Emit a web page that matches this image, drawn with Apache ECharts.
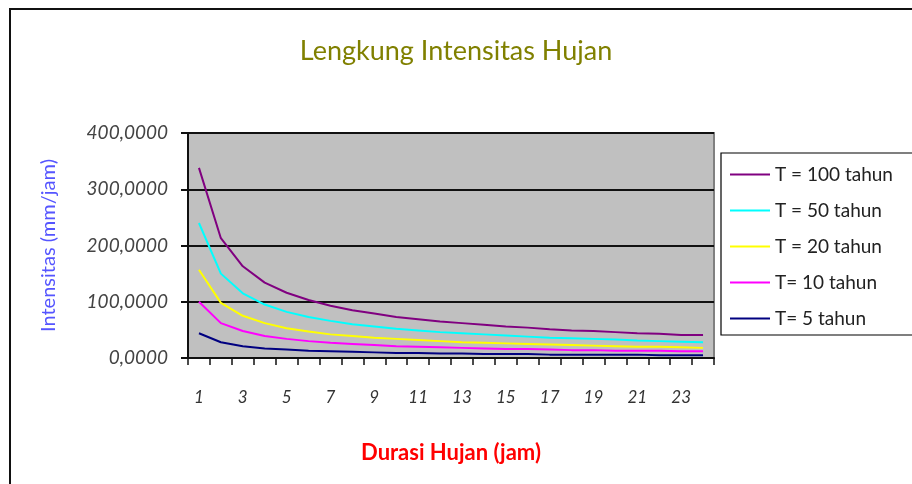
<!DOCTYPE html>
<html><head><meta charset="utf-8">
<script src="https://cdn.jsdelivr.net/npm/echarts@6/dist/echarts.min.js"></script>
<style>
html,body{margin:0;padding:0;background:#fff;}
#frame{position:absolute;left:9px;top:8px;width:920px;height:500px;border:2px solid #111;box-sizing:border-box;}
#chart{position:absolute;left:0;top:0;width:912px;height:484px;}
</style></head>
<body>
<div id="frame"></div>
<div id="chart"></div>
<script>
const categories = ['1','2','3','4','5','6','7','8','9','10','11','12','13','14','15','16','17','18','19','20','21','22','23','24'];
const seriesNames = ['T = 100 tahun','T = 50 tahun','T = 20 tahun','T= 10 tahun','T= 5 tahun'];
const t100 = [338,213,163,134,116,103,93,85,79,73,69,65,62,59,56,54,51,49,48,46,44,43,41,41];
const t50  = [240,150,115,95,82,73,66,60,56,52,49,46,44,42,40,38,36,35,34,33,31,30,29,28];
const t20  = [157,98,75,62,53,47,42,39,36,34,32,30,28,27,26,25,24,23,22,21,20,20,19,18];
const t10  = [100,62,48,39,34,30,27,25,23,21,20,19,18,17,16,16,15,14,14,13,13,13,12,12];
const t5   = [44,28,21,17,15,13,12,11,10,9,9,8,8,7,7,7,6,6,6,6,6,5,5,5];
const yTicks = [0,100,200,300,400];
const colors = ['#800080','#00FFFF','#FFFF00','#FF00FF','#000080'];
const dataSets = [t100,t50,t20,t10,t5];

const chart = echarts.init(document.getElementById('chart'));
const font = 'Lato, "DejaVu Sans", sans-serif';
chart.setOption({
  animation:false,
  backgroundColor:'transparent',
  textStyle:{fontFamily:font},
  title:{text:'Lengkung Intensitas Hujan',left:'center',top:33,
    textStyle:{color:'#808000',fontSize:27,fontWeight:'normal',fontFamily:font}},
  legend:{orient:'vertical',left:721,top:153,width:220,
    backgroundColor:'#fff',borderColor:'#000',borderWidth:1.2,borderRadius:0,
    padding:[12,40,7,8],itemGap:17,itemWidth:40,itemHeight:14,
    itemStyle:{opacity:0},
    data:seriesNames,
    textStyle:{color:'#222',fontSize:19,fontFamily:font,padding:[0,0,0,0]}},
  grid:{left:188,top:133,width:526,height:225,show:true,backgroundColor:'#C0C0C0',borderColor:'#808080',borderWidth:2},
  xAxis:{type:'category',data:categories,boundaryGap:true,
    name:'Durasi Hujan (jam)',nameLocation:'middle',nameGap:84,
    nameTextStyle:{color:'#FF0000',fontSize:22,fontWeight:'bold',fontFamily:font},
    axisLine:{lineStyle:{color:'#111',width:2}},
    axisTick:{show:true,interval:0,length:7,lineStyle:{color:'#111',width:1.5}},
    axisLabel:{interval:1,color:'#333',fontSize:17,margin:31,fontStyle:'italic',fontFamily:font},
    splitLine:{show:false}},
  yAxis:{type:'value',min:yTicks[0],max:yTicks[yTicks.length-1],interval:100,
    name:'Intensitas (mm/jam)',nameLocation:'middle',nameGap:129,
    nameTextStyle:{color:'#5555FF',fontSize:20,fontFamily:font},
    axisLine:{show:true,lineStyle:{color:'#111',width:2}},
    axisTick:{show:true,length:7,lineStyle:{color:'#111',width:2}},
    axisLabel:{color:'#444',fontSize:19,margin:20,fontStyle:'italic',fontFamily:font,
      formatter:v=>v.toFixed(4).replace('.',',')},
    splitLine:{show:true,lineStyle:{color:'#111',width:2}}},
  series:dataSets.map((d,i)=>({name:seriesNames[i],type:'line',data:d,symbol:'none',
    lineStyle:{color:colors[i],width:2},itemStyle:{color:colors[i]}}))
});
</script>
</body></html>
